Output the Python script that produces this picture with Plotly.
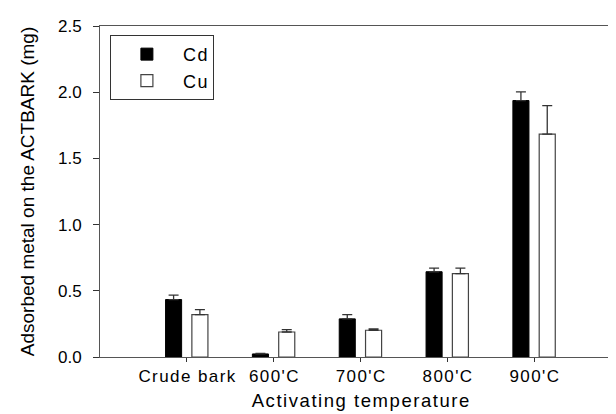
import plotly.graph_objects as go

categories = ["Crude bark", "600'C", "700'C", "800'C", "900'C"]
cd_values = [0.434, 0.023, 0.288, 0.644, 1.937]
cd_errors = [0.033, 0.004, 0.032, 0.028, 0.065]
cu_values = [0.320, 0.189, 0.202, 0.629, 1.684]
cu_errors = [0.038, 0.018, 0.010, 0.043, 0.215]
y_ticks = [0.0, 0.5, 1.0, 1.5, 2.0, 2.5]
y_tick_labels = ["0.0", "0.5", "1.0", "1.5", "2.0", "2.5"]


def spaced(text, sep="\u200a"):
    return sep.join(list(text))


xpos = list(range(len(categories)))
FONT = "Liberation Sans, Arial, sans-serif"

fig = go.Figure()
fig.add_trace(go.Bar(
    x=xpos, y=cd_values, name=spaced("Cd"),
    width=0.185, offset=-0.245,
    marker=dict(color="black", line=dict(color="black", width=1)),
    error_y=dict(type="data", array=cd_errors, arrayminus=[0]*len(cd_errors),
                 symmetric=False, color="#333333", thickness=1.3, width=5),
))
fig.add_trace(go.Bar(
    x=xpos, y=cu_values, name=spaced("Cu"),
    width=0.185, offset=0.058,
    marker=dict(color="white", line=dict(color="#444444", width=1.2)),
    error_y=dict(type="data", array=cu_errors, arrayminus=[0]*len(cu_errors),
                 symmetric=False, color="#333333", thickness=1.3, width=5),
))

fig.update_layout(
    width=616, height=414,
    margin=dict(l=92, r=3, t=18, b=65),
    paper_bgcolor="white", plot_bgcolor="white",
    font=dict(family=FONT, size=17, color="black"),
    showlegend=True,
    legend=dict(x=0.019, y=0.973, xanchor="left", yanchor="top",
                bordercolor="#333333", borderwidth=1, bgcolor="white",
                font=dict(size=18, family=FONT), itemwidth=62,
                tracegroupgap=0),
    xaxis=dict(range=[-1, 5], tickmode="array", tickvals=xpos,
               ticktext=[spaced(c) for c in categories],
               showgrid=False, zeroline=False,
               showline=True, linecolor="#555555", linewidth=1, mirror=True,
               ticks="outside", ticklen=4, tickcolor="#333333",
               ticklabelstandoff=0,
               title=dict(text=spaced("Activating temperature"),
                          font=dict(size=18.5, family=FONT), standoff=8),
               tickfont=dict(size=17, family=FONT)),
    yaxis=dict(range=[0, 2.5], tickmode="array", tickvals=y_ticks,
               ticktext=y_tick_labels,
               showgrid=False, zeroline=False,
               showline=True, linecolor="#555555", linewidth=1, mirror=True,
               ticks="outside", ticklen=6, tickcolor="#333333",
               ticklabelstandoff=8,
               title=dict(text="Adsorbed metal on the ACTBARK (mg)",
                          font=dict(size=19, family=FONT), standoff=18),
               tickfont=dict(size=17, family=FONT)),
)

fig.write_html("out.html")
